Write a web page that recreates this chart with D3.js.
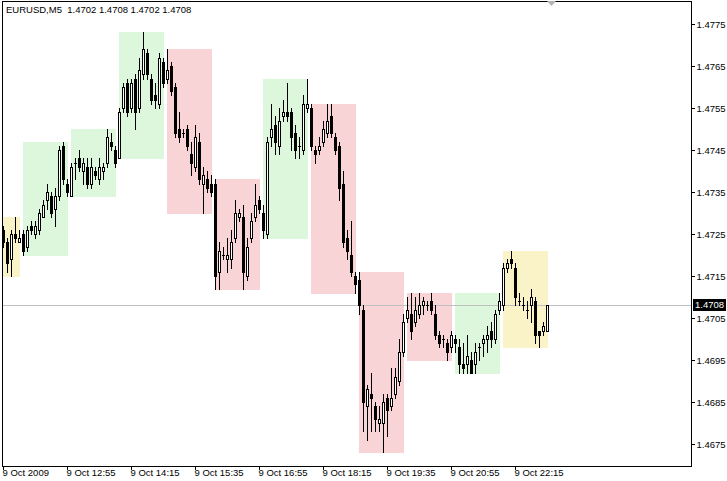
<!DOCTYPE html>
<html>
<head>
<meta charset="utf-8">
<script src="https://cdn.jsdelivr.net/npm/d3@7"></script>
<style>
body { margin: 0; background: #fff; }
text { font-family: Tahoma, "Liberation Sans", Arial, sans-serif; font-size: 9.5px; fill: #000; }
</style>
</head>
<body>
<div id="chart"></div>
<script>
// EURUSD M5, 9 Oct 2009, first visible bar 11:35
const opens = [1.4726,1.4723,1.4719,1.4725,1.4723,1.4725,1.4722,1.4727,1.4725,1.4726,1.4729,1.4733,1.4734,1.4731,1.4734,1.4746,1.4737,
  1.4734,1.4742,1.4743,1.4740,1.4741,1.4737,1.4740,1.4738,1.4740,1.4742,1.4747,1.4745,
  1.4743,1.4755,1.4761,1.4755,1.4762,1.4755,1.4763,1.4768,1.4762,1.4758,1.4756,1.4766,
  1.4762,1.4765,1.4760,1.4750,1.4749,1.4750,1.4744,1.4741,1.4747,1.4737,1.4738,1.4737,
  1.4737,1.4716,1.4720,1.4719,1.4719,1.4724,1.4729,1.4729,1.4715,1.4724,1.4729,1.4733,
  1.4730,1.4725,1.4748,1.4751,1.4746,1.4753,1.4754,1.4754,1.4749,1.4746,1.4745,1.4755,
  1.4755,1.4745,1.4745,1.4747,1.4749,1.4753,1.4748,1.4746,1.4737,1.4724,1.4720,1.4715,
  1.4714,1.4707,1.4684,1.4687,1.4684,1.4680,1.4680,1.4686,1.4684,1.4687,1.4690,1.4697,
  1.4705,1.4706,1.4704,1.4706,1.4708,1.4708,1.4709,1.4706,1.4701,1.4700,1.4699,1.4698,
  1.4700,1.4698,1.4694,1.4694,1.4695,1.4694,1.4698,1.4699,1.4700,1.4702,1.4700,1.4707,
  1.4708,1.4717,1.4719,1.4717,1.4709,1.4708,1.4707,1.4708,1.4709,1.4702,1.4702,1.4702];
const highs = [1.4727,1.4724,1.4726,1.4729,1.4726,1.4726,1.4727,1.4728,1.4728,1.4731,1.4733,1.4737,1.4735,1.4736,1.4746,1.4747,1.4738,
  1.4742,1.4743,1.4745,1.4743,1.4743,1.4743,1.4741,1.4743,1.4742,1.4750,1.4749,1.4746,
  1.4755,1.4761,1.4762,1.4762,1.4763,1.4767,1.4773,1.4769,1.4763,1.4761,1.4768,1.4767,
  1.4769,1.4766,1.4761,1.4754,1.4750,1.4751,1.4747,1.4751,1.4749,1.4741,1.4740,1.4739,
  1.4738,1.4723,1.4722,1.4724,1.4726,1.4733,1.4731,1.4732,1.4724,1.4730,1.4737,1.4734,
  1.4732,1.4748,1.4756,1.4753,1.4755,1.4757,1.4761,1.4755,1.4751,1.4748,1.4758,1.4762,
  1.4756,1.4746,1.4748,1.4752,1.4756,1.4756,1.4749,1.4747,1.4740,1.4726,1.4728,1.4716,
  1.4716,1.4708,1.4689,1.4692,1.4685,1.4684,1.4687,1.4687,1.4693,1.4693,1.4700,1.4706,
  1.4710,1.4711,1.4710,1.4711,1.4710,1.4709,1.4711,1.4708,1.4702,1.4701,1.4700,1.4702,
  1.4701,1.4700,1.4699,1.4701,1.4697,1.4699,1.4699,1.4701,1.4703,1.4704,1.4707,1.4711,
  1.4718,1.4719,1.4721,1.4718,1.4711,1.4710,1.4709,1.4712,1.4710,1.4702,1.4704,1.4708];
const lows = [1.4722,1.4716,1.4715,1.4723,1.4723,1.4720,1.4721,1.4725,1.4724,1.4725,1.4729,1.4731,1.4729,1.4727,1.4733,1.4737,1.4734,
  1.4734,1.4738,1.4740,1.4737,1.4736,1.4736,1.4738,1.4737,1.4738,1.4741,1.4745,1.4741,
  1.4743,1.4754,1.4753,1.4754,1.4750,1.4754,1.4762,1.4762,1.4756,1.4755,1.4755,1.4760,
  1.4761,1.4758,1.4748,1.4747,1.4748,1.4745,1.4739,1.4740,1.4737,1.4730,1.4735,1.4734,
  1.4712,1.4712,1.4719,1.4716,1.4717,1.4723,1.4728,1.4712,1.4714,1.4723,1.4728,1.4730,
  1.4724,1.4724,1.4746,1.4744,1.4744,1.4752,1.4752,1.4745,1.4743,1.4743,1.4744,1.4754,
  1.4745,1.4742,1.4744,1.4746,1.4748,1.4748,1.4744,1.4733,1.4722,1.4719,1.4715,1.4711,
  1.4706,1.4678,1.4676,1.4678,1.4678,1.4678,1.4673,1.4677,1.4683,1.4686,1.4689,1.4696,
  1.4704,1.4700,1.4703,1.4705,1.4706,1.4707,1.4706,1.4700,1.4698,1.4698,1.4695,1.4697,
  1.4697,1.4692,1.4692,1.4692,1.4692,1.4692,1.4695,1.4696,1.4697,1.4698,1.4699,1.4706,
  1.4707,1.4716,1.4717,1.4708,1.4708,1.4707,1.4705,1.4704,1.4699,1.4698,1.4701,1.4702];
const closes = [1.4723,1.4718,1.4725,1.4724,1.4724,1.4721,1.4726,1.4726,1.4727,1.4730,1.4732,1.4735,1.4730,1.4734,1.4745,1.4738,1.4735,
  1.4741,1.4742,1.4741,1.4742,1.4737,1.4741,1.4739,1.4741,1.4741,1.4748,1.4746,1.4742,
  1.4754,1.4760,1.4754,1.4761,1.4754,1.4764,1.4769,1.4763,1.4757,1.4757,1.4767,1.4761,
  1.4764,1.4759,1.4749,1.4748,1.4749,1.4746,1.4742,1.4748,1.4738,1.4739,1.4736,1.4735,
  1.4715,1.4721,1.4720,1.4720,1.4723,1.4730,1.4730,1.4716,1.4722,1.4728,1.4732,1.4731,
  1.4726,1.4747,1.4750,1.4747,1.4752,1.4754,1.4753,1.4748,1.4745,1.4746,1.4756,1.4756,
  1.4746,1.4744,1.4746,1.4750,1.4752,1.4749,1.4745,1.4736,1.4723,1.4721,1.4716,1.4713,
  1.4708,1.4685,1.4688,1.4686,1.4681,1.4681,1.4685,1.4683,1.4686,1.4691,1.4697,1.4704,
  1.4707,1.4702,1.4707,1.4708,1.4709,1.4708,1.4707,1.4701,1.4699,1.4700,1.4697,1.4701,
  1.4699,1.4694,1.4693,1.4696,1.4692,1.4697,1.4698,1.4700,1.4701,1.4700,1.4706,1.4709,
  1.4717,1.4718,1.4718,1.4710,1.4709,1.4708,1.4707,1.4710,1.4701,1.4701,1.4703,1.4708];

// hourly boxes: up = green, down = red, flat = yellow
const hourTypes = ["flat","up","up","up","down","down","up","down","down","down","up","flat"];
const boxColors = { up: "#dcf7dc", down: "#f9d4d6", flat: "#faf3c8" };

const priceTicks = [1.4675,1.4685,1.4695,1.4705,1.4715,1.4725,1.4735,1.4745,1.4755,1.4765,1.4775];
const timeTicks = [0,16,32,48,64,80,96,112,128];
const timeLabels = ["9 Oct 2009","9 Oct 12:55","9 Oct 14:15","9 Oct 15:35","9 Oct 16:55",
  "9 Oct 18:15","9 Oct 19:35","9 Oct 20:55","9 Oct 22:15"];
const lastPrice = 1.4708;
const startMinutes = 11 * 60 + 35;

const width = 727, height = 481;
const plot = { left: 2, right: 691, top: 1, bottom: 466 };

const svg = d3.select("#chart").append("svg")
    .attr("width", width)
    .attr("height", height)
    .style("display", "block");

svg.append("rect").attr("width", width).attr("height", height).attr("fill", "#fff");

svg.append("clipPath").attr("id", "plot-clip")
    .append("rect")
    .attr("x", plot.left).attr("y", plot.top)
    .attr("width", plot.right - plot.left).attr("height", plot.bottom - plot.top);

// scales: one bar every 4px
const x = d3.scaleLinear().domain([0, opens.length - 1]).range([3, 547]);
const y = d3.scaleLinear().domain([1.4675, 1.4775]).range([444, 24]);

const bars = opens.map((o, i) => ({
    i, o, h: highs[i], l: lows[i], c: closes[i],
    hour: Math.floor((startMinutes + 5 * i) / 60)
}));

const hours = d3.groups(bars, d => d.hour).map(([hr, arr], k) => ({
    first: arr[0].i,
    last: arr[arr.length - 1].i,
    hi: d3.max(arr, d => d.h),
    lo: d3.min(arr, d => d.l),
    type: hourTypes[k]
}));

const g = svg.append("g").attr("clip-path", "url(#plot-clip)").attr("shape-rendering", "crispEdges");

// hour boxes
g.selectAll(".box")
    .data(hours)
    .enter()
    .append("rect")
    .attr("class", "box")
    .attr("x", d => Math.round(x(d.first)) - (d.first === 0 ? 1 : 0))
    .attr("y", d => Math.round(y(d.hi)))
    .attr("width", d => Math.round(x(d.last)) - Math.round(x(d.first)) + 1 + (d.first === 0 ? 1 : 0))
    .attr("height", d => Math.round(y(d.lo)) - Math.round(y(d.hi)) + 1)
    .attr("fill", d => boxColors[d.type]);

// current price line
g.append("line")
    .attr("x1", plot.left).attr("x2", plot.right)
    .attr("y1", Math.round(y(lastPrice)) + 0.5)
    .attr("y2", Math.round(y(lastPrice)) + 0.5)
    .attr("stroke", "#c0c0c0");

// candles
const candle = g.selectAll(".candle")
    .data(bars)
    .enter()
    .append("g")
    .attr("class", "candle");

candle.append("line")
    .attr("x1", d => Math.round(x(d.i)) + 0.5)
    .attr("x2", d => Math.round(x(d.i)) + 0.5)
    .attr("y1", d => Math.round(y(d.h)))
    .attr("y2", d => Math.round(y(d.l)) + 1)
    .attr("stroke", "#000");

candle.each(function(d) {
    const px = Math.round(x(d.i));
    const top = Math.round(y(Math.max(d.o, d.c)));
    const bot = Math.round(y(Math.min(d.o, d.c)));
    const sel = d3.select(this);
    if (bot === top) {
        sel.append("rect").attr("x", px - 1).attr("y", top).attr("width", 3).attr("height", 1).attr("fill", "#000");
    } else if (d.c > d.o) {
        sel.append("rect")
            .attr("x", px - 0.5).attr("y", top + 0.5)
            .attr("width", 2).attr("height", bot - top)
            .attr("fill", "#fff").attr("stroke", "#000");
    } else {
        sel.append("rect")
            .attr("x", px - 1).attr("y", top)
            .attr("width", 3).attr("height", bot - top + 1)
            .attr("fill", "#000");
    }
});

// frame
svg.append("rect")
    .attr("x", plot.left + 0.5).attr("y", plot.top + 0.5)
    .attr("width", plot.right - plot.left).attr("height", plot.bottom - plot.top)
    .attr("fill", "none").attr("stroke", "#000")
    .attr("shape-rendering", "crispEdges");

// price axis
const yAxis = svg.append("g")
    .attr("transform", "translate(" + (plot.right + 0.5) + ",0)")
    .call(d3.axisRight(y).tickValues(priceTicks).tickSize(3).tickPadding(2).tickFormat(d3.format(".4f")));
yAxis.select(".domain").remove();
yAxis.selectAll("line").attr("stroke", "#000").attr("shape-rendering", "crispEdges");
yAxis.selectAll("text").attr("font-size", null).attr("font-family", null).attr("fill", "#000");

// time axis
const xAxis = svg.append("g")
    .attr("transform", "translate(0," + (plot.bottom + 0.5) + ")")
    .call(d3.axisBottom(x).tickValues(timeTicks).tickSize(3).tickFormat((d, k) => timeLabels[k]));
xAxis.select(".domain").remove();
xAxis.selectAll("line").attr("stroke", "#000").attr("shape-rendering", "crispEdges");
xAxis.selectAll("text")
    .attr("font-size", null).attr("font-family", null).attr("fill", "#000")
    .attr("text-anchor", "start")
    .attr("x", -1)
    .attr("y", 3);

// last price tag
const yp = Math.round(y(lastPrice));
svg.append("rect")
    .attr("x", plot.right + 2).attr("y", yp - 6)
    .attr("width", 33).attr("height", 12)
    .attr("fill", "#000");
svg.append("text")
    .attr("x", plot.right + 4).attr("y", yp)
    .attr("dy", "0.35em")
    .style("fill", "#fff")
    .text(d3.format(".4f")(lastPrice));

// shift marker
svg.append("path")
    .attr("d", "M547,1L556,1L551.5,6Z")
    .attr("fill", "#b4b4b4");

// title
svg.append("text")
    .attr("x", 6).attr("y", 13)
    .style("white-space", "pre")
    .text("EURUSD,M5  " + [opens[opens.length - 1], highs[highs.length - 1], lows[lows.length - 1], closes[closes.length - 1]].map(d3.format(".4f")).join(" "));
</script>
</body>
</html>
